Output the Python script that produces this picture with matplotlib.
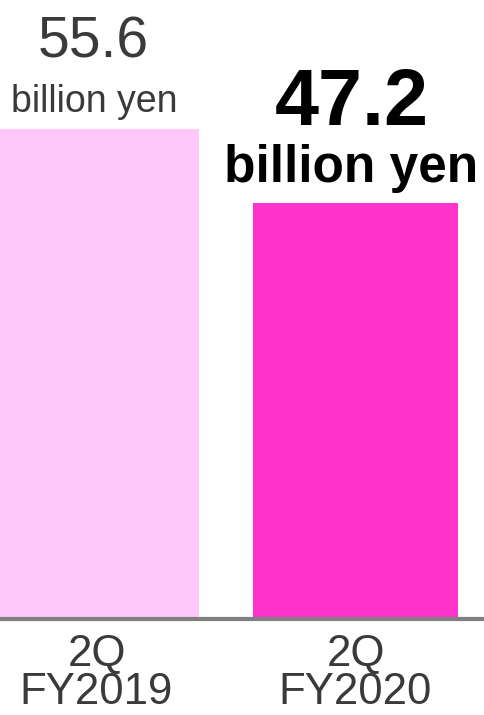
import matplotlib
matplotlib.use("Agg")
import matplotlib.pyplot as plt

# Quarterly figures (billion yen)
periods = ["2Q\nFY2019", "2Q\nFY2020"]
values = [55.6, 47.2]
value_text = ["55.6", "47.2"]
unit_text = "billion yen"
bar_colors = ["#FFC8FA", "#FF33CC"]

plt.rcParams["font.family"] = ["Liberation Sans", "DejaVu Sans"]

W, H = 484, 715
fig = plt.figure(figsize=(W / 100, H / 100), dpi=100)
base_px = 618.5
ax = fig.add_axes([0, (H - base_px) / H, 1, base_px / H])

xs = list(range(len(values)))
ax.bar(xs, values, width=0.79, color=bar_colors, linewidth=0, zorder=1)

ax.set_xlim(-0.3726, 1.496)
ax.set_ylim(0, 70.28)

for s in ["top", "left", "right"]:
    ax.spines[s].set_visible(False)
ax.spines["bottom"].set_color("#808080")
ax.spines["bottom"].set_linewidth(3.0)
ax.spines["bottom"].set_zorder(3)
ax.set_yticks([])
ax.set_xticks(xs)
ax.set_xticklabels(periods, fontsize=31.5, color="#3a3a3a", linespacing=0.9)
ax.tick_params(axis="x", length=0, pad=11)

# previous-year label (regular, gray)
ax.annotate(value_text[0], (xs[0], values[0]), xytext=(-3, 72), textcoords="offset pixels",
            ha="center", va="baseline", fontsize=41, color="#3a3a3a")
ax.annotate(unit_text, (xs[0], values[0]), xytext=(-2, 17), textcoords="offset pixels",
            ha="center", va="baseline", fontsize=27, color="#3a3a3a")

# current-year label (bold, black)
ax.annotate(value_text[1], (xs[1], values[1]), xytext=(-4, 78), textcoords="offset pixels",
            ha="center", va="baseline", fontsize=57, fontweight="bold", color="#000000")
ax.annotate(unit_text, (xs[1], values[1]), xytext=(-4, 21), textcoords="offset pixels",
            ha="center", va="baseline", fontsize=37, fontweight="bold", color="#000000")

fig.savefig("out.png", dpi=100)
